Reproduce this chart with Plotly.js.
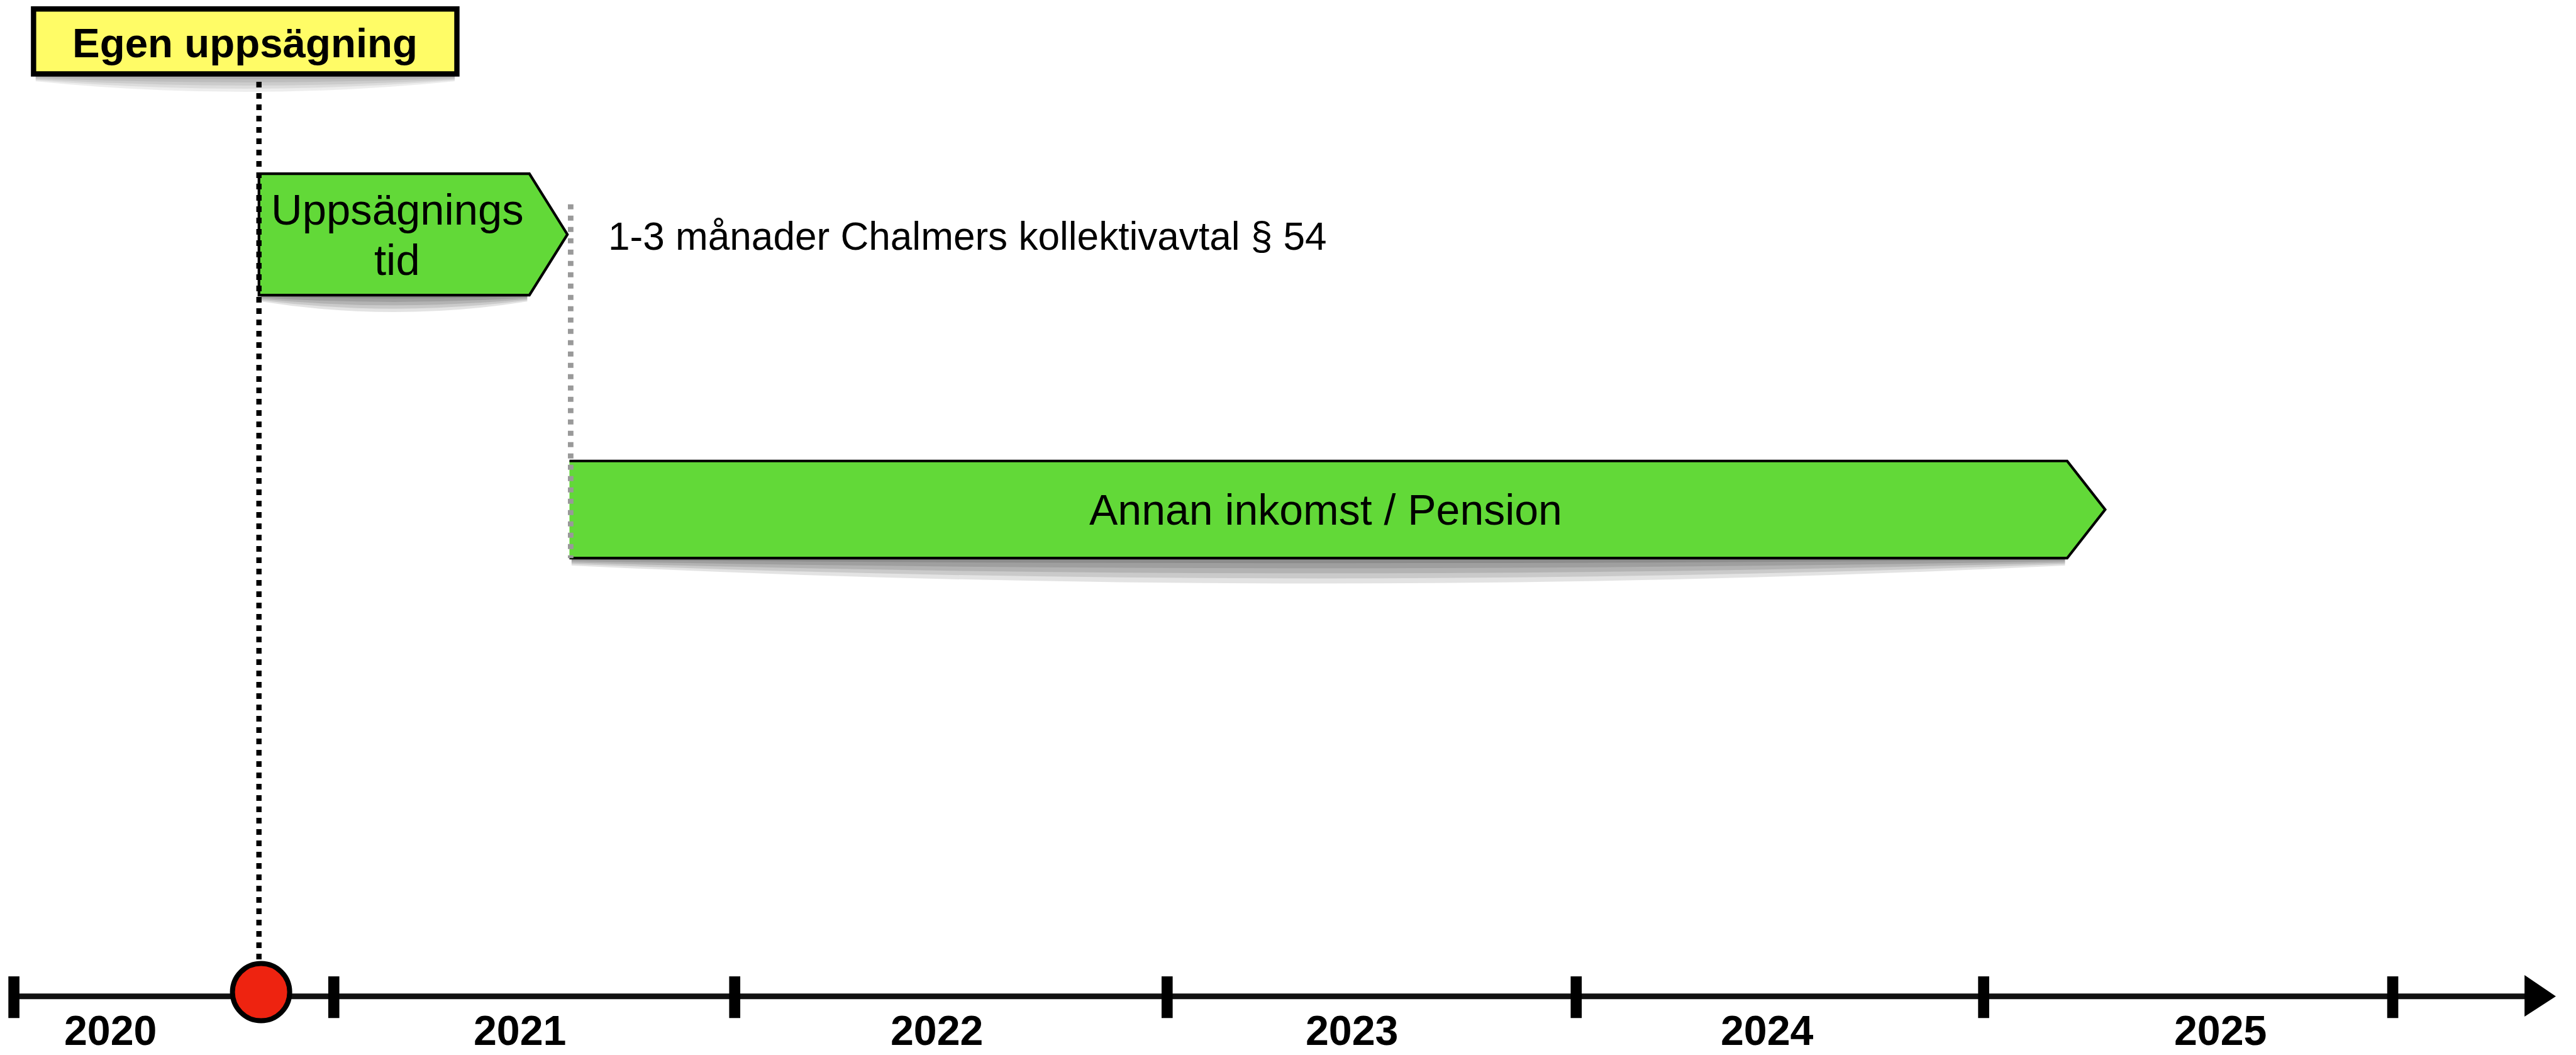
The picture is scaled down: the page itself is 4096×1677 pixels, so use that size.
<!DOCTYPE html>
<html><head><meta charset="utf-8">
<script src="https://cdn.plot.ly/plotly-3.0.1.min.js"></script>
<style>html,body{margin:0;padding:0;background:#fff;overflow:hidden}#chart{width:4096px;height:1677px}</style>
</head><body><div id="chart"></div>
<script>
// ---------------- data (timeline positions in decimal years) ----------------
const yearLabels = ['2020', '2021', '2022', '2023', '2024', '2025'];
const yearLabelPos = [2020.418, 2021.418, 2022.438, 2023.453, 2024.467, 2025.575];
const tickPos = [2020.181, 2020.963, 2021.943, 2023.000, 2024.000, 2024.996, 2025.996];
const axisEnd = 2026.392;
const resignationDate = 2020.78;
const noticePeriod = [2020.78, 2021.534];     // start, arrow tip
const incomePeriod = [2021.539, 2025.293];    // start, arrow tip
const noticeEndMarker = 2021.542;
const eventLabel = 'Egen uppsägning';
const noticeLabel = ['Uppsägnings', 'tid'];
const noticeNote = '1-3 månader Chalmers kollektivavtal § 54';
const incomeLabel = 'Annan inkomst / Pension';

// ---------------- layout / style ----------------
const S = 4096 / 4880;                 // output scale
const REF_W = 4880, REF_H = 1998;      // y axis runs in reference pixel units
const xRange = [2020.147, 2026.444];
const pxPerYear = REF_W / (xRange[1] - xRange[0]);
const dx = n => n / pxPerYear;         // reference px -> years
const FONT = 'Liberation Sans, Arial, Helvetica, sans-serif';
const GREEN = '#62D938', YELLOW = '#FFFC66', RED = '#EE2310';

const lane = {
  boxTop: 17, boxBot: 140, eventY: 82,
  n1Top: 329, n1Bot: 559,
  n2Top: 873, n2Bot: 1057,
  axisY: 1887, tickTop: 1849, tickBot: 1928, labelY: 1951,
  dotTop: 155, grayTop: 387
};

const shapes = [];
function shadow(x0, x1, yb, e, m, a) {
  const xm = (x0 + x1) / 2;
  [0.2, 0.4, 0.6, 0.8, 1].forEach(f => {
    const ee = e * f, mm = m * f;
    shapes.push({type: 'path', layer: 'below', xref: 'x', yref: 'y',
      path: `M ${x0},${yb} L ${x1},${yb} L ${x1},${yb + ee} Q ${xm},${yb + 2 * mm - ee} ${x0},${yb + ee} Z`,
      fillcolor: `rgba(0,0,0,${a})`, line: {width: 0}});
  });
}
function arrowShape(l, tip, top, bot, closed, sh) {
  const be = tip - dx(72), mid = (top + bot) / 2;
  shadow(l + dx(4), be - dx(4), bot, sh[0], sh[1], 0.11);
  shapes.push({type: 'path', layer: 'below', xref: 'x', yref: 'y',
    path: `M ${l},${top} L ${be},${top} L ${tip},${mid} L ${be},${bot} L ${l},${bot} Z`,
    fillcolor: GREEN, line: {width: 0}});
  shapes.push({type: 'path', layer: 'below', xref: 'x', yref: 'y',
    path: `M ${l},${top} L ${be},${top} L ${tip},${mid} L ${be},${bot} L ${l},${bot}` + (closed ? ' Z' : ''),
    fillcolor: 'rgba(0,0,0,0)', line: {color: '#000', width: 5 * S}});
  return (l + be) / 2;
}

// event label box
const boxL = resignationDate + dx(-427), boxR = resignationDate + dx(375);
shadow(boxL + dx(4), boxR - dx(4), lane.boxBot + 4, 10, 30, 0.07);
shapes.push({type: 'rect', layer: 'below', xref: 'x', yref: 'y',
  x0: boxL, x1: boxR, y0: lane.boxTop, y1: lane.boxBot,
  fillcolor: YELLOW, line: {color: '#000', width: 10 * S}});

const n1c = arrowShape(noticePeriod[0], noticePeriod[1], lane.n1Top, lane.n1Bot, true, [12, 32]);
const n2c = arrowShape(incomePeriod[0], incomePeriod[1], lane.n2Top, lane.n2Bot, false, [14, 48]);

// arrow head of timeline
shapes.push({type: 'path', layer: 'above', xref: 'x', yref: 'y',
  path: `M ${axisEnd - dx(56)},${lane.tickTop} L ${axisEnd},${lane.axisY} L ${axisEnd - dx(56)},${lane.tickBot - 5} Z`,
  fillcolor: '#000', line: {color: '#000', width: 2}});

// ---------------- traces ----------------
const tx = [], ty = [];
tickPos.forEach(t => { tx.push(t, t, null); ty.push(lane.tickTop, lane.tickBot, null); });

const traces = [
  {x: [tickPos[0], axisEnd - dx(40)], y: [lane.axisY, lane.axisY], mode: 'lines',
   line: {color: '#111', width: 9}, hoverinfo: 'skip'},
  {x: tx, y: ty, mode: 'lines', line: {color: '#000', width: 21 * S}, hoverinfo: 'skip'},
  {x: [resignationDate, resignationDate], y: [lane.dotTop, lane.axisY], mode: 'lines',
   line: {color: '#000', width: 10 * S, dash: '9px,9px'}, hoverinfo: 'skip'},
  {x: [noticeEndMarker, noticeEndMarker], y: [lane.grayTop, lane.n2Bot], mode: 'lines',
   line: {color: '#999', width: 10.5 * S, dash: '8px,10px'}, hoverinfo: 'skip'},
  {x: [resignationDate + dx(4)], y: [lane.axisY - 8], mode: 'markers',
   marker: {size: 91, color: RED, line: {color: '#000', width: 8}}, hoverinfo: 'skip'}
];

// ---------------- annotations ----------------
const ann = [];
const txt = (x, y, text, size, opts = {}) => ann.push(Object.assign({
  x, y, xref: 'x', yref: 'y', text, showarrow: false,
  xanchor: 'center', yanchor: 'middle',
  font: {family: FONT, size: size * S, color: '#000', weight: opts.bold ? 700 : 400}
}, opts.extra || {}));

txt(resignationDate + dx(-26), lane.eventY, eventLabel, 78, {bold: true});
txt(n1c + dx(6), 397, noticeLabel[0], 82);
txt(n1c + dx(6), 493, noticeLabel[1], 82);
txt(noticeEndMarker + dx(69), 447, noticeNote, 74, {extra: {xanchor: 'left'}});
txt(n2c + dx(14), 965, incomeLabel, 81);
yearLabels.forEach((lab, i) => txt(yearLabelPos[i], lane.labelY, lab, 79, {bold: true}));

const layout = {
  width: 4096, height: 1677,
  margin: {l: 0, r: 0, t: 0, b: 0, pad: 0},
  paper_bgcolor: '#fff', plot_bgcolor: '#fff',
  showlegend: false, hovermode: false,
  xaxis: {range: xRange, visible: false, fixedrange: true},
  yaxis: {range: [REF_H, 0], visible: false, fixedrange: true},
  shapes, annotations: ann
};
Plotly.newPlot('chart', traces, layout, {staticPlot: true, displayModeBar: false});
</script>
</body></html>
